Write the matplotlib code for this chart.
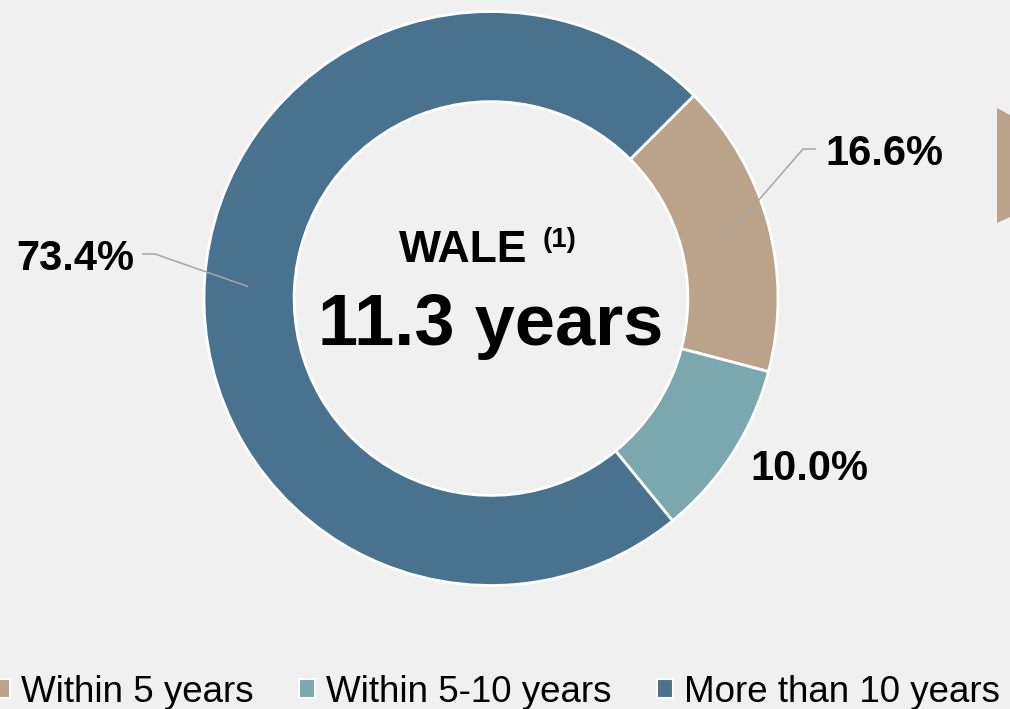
import numpy as np
import matplotlib
matplotlib.use("Agg")
import matplotlib.pyplot as plt
from matplotlib.patches import Patch, Polygon

plt.rcParams['font.family'] = ['Liberation Sans', 'DejaVu Sans']

# data
categories = ['Within 5 years', 'Within 5-10 years', 'More than 10 years']
shares = [16.6, 10.0, 73.4]
colors = ['#BBA38B', '#7BA8AE', '#48728E']
wale_years = 11.3

BG = '#F0F0F0'
W, H = 1010, 709

fig = plt.figure(figsize=(W / 100, H / 100), dpi=100, facecolor=BG)

# donut axes: centre (491, 298.5) px, outer radius 287 px
cx, cy, R = 491, 298.5, 287
ax = fig.add_axes([(cx - R) / W, (H - cy - R) / H, 2 * R / W, 2 * R / H])
ax.set_facecolor(BG)

wedges, _ = ax.pie(shares, colors=colors, startangle=45, counterclock=False,
                   radius=1, wedgeprops=dict(width=0.314, edgecolor='white', linewidth=2))
ax.set_xlim(-1, 1)
ax.set_ylim(-1, 1)
ax.axis('off')


def px(x, y):
    # pixel position -> data coords of the donut axes
    return (x - cx) / R, (cy - y) / R


def mid_point(w, r):
    a = np.deg2rad((w.theta1 + w.theta2) / 2)
    return r * np.cos(a), r * np.sin(a)


lead = dict(color='#A6A6A6', lw=1.1, clip_on=False)
lbl = dict(fontsize=30, fontweight='bold', color='black')

# 16.6% label with leader
sx, sy = mid_point(wedges[0], 0.86)
kx, ky = px(803, 149)
ex, ey = px(815, 149)
ax.plot([sx, kx, ex], [sy, ky, ey], **lead)
ax.text(*px(825, 165), f'{shares[0]:.1f}%', ha='left', va='baseline', **lbl)

# 10.0% label
ax.text(*px(750, 480), f'{shares[1]:.1f}%', ha='left', va='baseline', **lbl)

# 73.4% label with leader
sx, sy = mid_point(wedges[2], 0.85)
kx, ky = px(155, 254)
ex, ey = px(143, 254)
ax.plot([sx, kx, ex], [sy, ky, ey], **lead)
ax.text(*px(134, 270), f'{shares[2]:.1f}%', ha='right', va='baseline', **lbl)

# centre text
ax.text(*px(463, 262), 'WALE', ha='center', va='baseline',
        fontsize=32, fontweight='bold')
ax.text(*px(543, 247), '(1)', ha='left', va='baseline',
        fontsize=20, fontweight='bold')
ax.text(*px(491, 345), f'{wale_years:.1f} years', ha='center', va='baseline',
        fontsize=52, fontweight='bold')

# partial chevron at right edge
fig.patches.append(Polygon([(997 / W, 1 - 108 / H), (1.0, 1 - 115 / H),
                            (1.0, 1 - 217 / H), (997 / W, 1 - 223 / H)],
                           closed=True, transform=fig.transFigure,
                           facecolor=colors[0], edgecolor='none'))

# legend
handles = [Patch(facecolor=c, edgecolor='white', linewidth=1.5) for c in colors]
fig.legend(handles, categories, loc='center', bbox_to_anchor=(497 / W, 1 - 692 / H),
           ncol=3, frameon=False, fontsize=26.5, handlelength=0.42, handleheight=0.42,
           handletextpad=0.3, columnspacing=1.25, borderpad=0, borderaxespad=0)

fig.savefig('out.png', dpi=100, facecolor=BG)
